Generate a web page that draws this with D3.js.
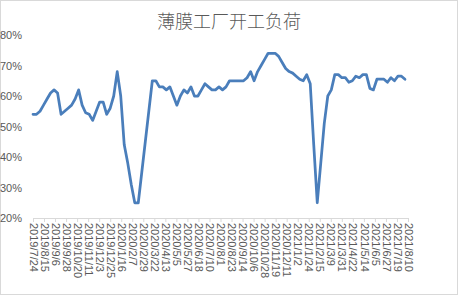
<!DOCTYPE html>
<html lang="zh">
<head>
<meta charset="UTF-8">
<title>薄膜工厂开工负荷</title>
<script src="https://cdn.jsdelivr.net/npm/d3@7"></script>
<style>
  body { margin: 0; background: #fff; }
  svg { display: block; }
  .tick-label { font-family: "Liberation Sans", Arial, sans-serif; fill: #595959; }
</style>
</head>
<body>
<svg id="chart" width="458" height="295"></svg>
<script>
// weekly readings, first reading on startDate
const startDate = "2019-07-24";
const loadPct = [
  54, 54, 55, 57, 59, 61, 62, 61, 54, 55,
  56, 57, 59, 62, 57, 54.5, 54, 52, 55, 58,
  58, 54, 56, 60, 68, 60, 44, 38, 31, 25,
  25, 35, 45, 55, 65, 65, 63, 63, 62, 63,
  60, 57, 60, 62, 61, 63, 60, 60, 62, 64,
  63, 62, 62, 63, 62, 63, 65, 65, 65, 65,
  65, 66, 68, 65, 68, 70, 72, 74, 74, 74,
  73, 71, 69, 68, 67.5, 66.5, 65.5, 65, 67, 64,
  44, 25, 38, 51, 60, 62, 67, 67, 66, 66,
  64.5, 65, 66.5, 66, 67, 67, 62.5, 62, 65.5, 65.5,
  65.5, 64.5, 66, 65, 66.5, 66.5, 65.5
];
const xTickLabels = [
  "2019/7/24", "2019/8/15", "2019/9/6", "2019/9/28", "2019/10/20", "2019/11/11",
  "2019/12/3", "2019/12/25", "2020/1/16", "2020/2/7", "2020/2/29", "2020/3/22",
  "2020/4/13", "2020/5/5", "2020/5/27", "2020/6/18", "2020/7/10", "2020/8/1",
  "2020/8/23", "2020/9/14", "2020/10/6", "2020/10/28", "2020/11/19", "2020/12/11",
  "2021/1/2", "2021/1/24", "2021/2/15", "2021/3/9", "2021/3/31", "2021/4/22",
  "2021/5/14", "2021/6/5", "2021/6/27", "2021/7/19", "2021/8/10"
];
const yTicks = [20, 30, 40, 50, 60, 70, 80];
const title = "薄膜工厂开工负荷";

const parseLabel = d3.timeParse("%Y/%m/%d");
const start = d3.timeParse("%Y-%m-%d")(startDate);
const data = loadPct.map((v, i) => ({ date: d3.timeDay.offset(start, i * 7), value: v }));
const tickDates = xTickLabels.map(parseLabel);

const svg = d3.select("#chart");

svg.append("rect")
    .attr("x", 0.5).attr("y", 0.5)
    .attr("width", 457).attr("height", 294)
    .attr("fill", "#fff")
    .attr("stroke", "#d9d9d9");

svg.append("text")
    .attr("x", 229).attr("y", 28)
    .attr("text-anchor", "middle")
    .style("font-family", "'Noto Sans CJK SC', sans-serif")
    .style("font-size", "18px")
    .style("font-weight", 300)
    .style("fill", "#595959")
    .text(title);

const x = d3.scaleTime()
    .domain([tickDates[0], tickDates[tickDates.length - 1]])
    .range([33, 408]);

const y = d3.scaleLinear()
    .domain([20, 80])
    .range([218, 35]);

// y axis: labels only
const yAxis = svg.append("g")
    .attr("transform", "translate(23,0)")
    .call(d3.axisLeft(y).tickValues(yTicks).tickSize(0).tickPadding(1).tickFormat(d => d + "%"));
yAxis.select(".domain").remove();
yAxis.selectAll("text")
    .attr("class", "tick-label")
    .style("font-size", "11px");

// x axis
const xAxis = svg.append("g")
    .attr("transform", `translate(0,${y(20)})`)
    .call(d3.axisBottom(x).tickValues(tickDates).tickSize(4).tickSizeOuter(0)
        .tickFormat((d, i) => xTickLabels[i]));
xAxis.select(".domain").attr("stroke", "#d9d9d9");
xAxis.selectAll(".tick line").attr("stroke", "#d9d9d9");
xAxis.selectAll("text")
    .attr("class", "tick-label")
    .style("font-size", "11px")
    .attr("text-anchor", "start")
    .attr("transform", "rotate(90)")
    .attr("x", 5)
    .attr("y", 0)
    .attr("dy", "0.35em");

const line = d3.line()
    .x(d => x(d.date))
    .y(d => y(d.value));

svg.append("path")
    .datum(data)
    .attr("fill", "none")
    .attr("stroke", "#4a7ebb")
    .attr("stroke-width", 2.75)
    .attr("stroke-linejoin", "round")
    .attr("stroke-linecap", "round")
    .attr("d", line);
</script>
</body>
</html>
